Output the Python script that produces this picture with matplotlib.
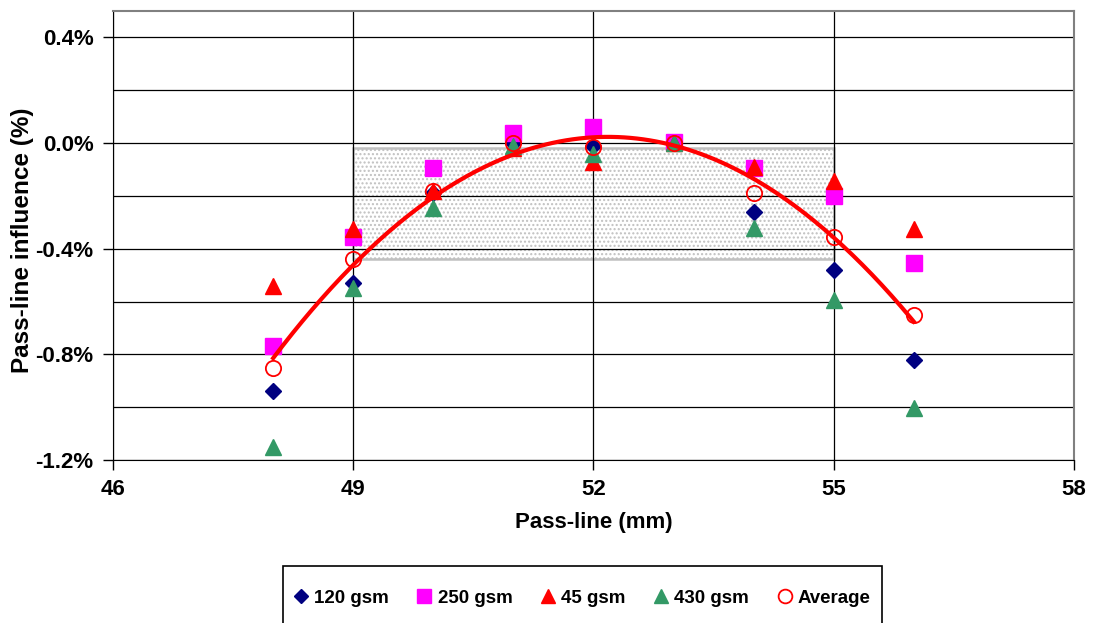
import numpy as np
import matplotlib
matplotlib.use('Agg')
import matplotlib.pyplot as plt
from matplotlib.ticker import MultipleLocator, FuncFormatter
from matplotlib.patches import Rectangle

plt.rcParams['font.family'] = ['Liberation Sans', 'DejaVu Sans']
plt.rcParams['font.weight'] = 'bold'
plt.rcParams['hatch.color'] = '#c0c0c0'
plt.rcParams['hatch.linewidth'] = 1.0

# pass-line positions (mm) and influence (%)
passline = [48, 49, 50, 51, 52, 53, 54, 55, 56]
g120 = [-0.937, -0.53, -0.19, 0.0, -0.01, 0.0, -0.26, -0.48, -0.82]
g250 = [-0.77, -0.357, -0.095, 0.04, 0.06, 0.005, -0.095, -0.20, -0.455]
g45 = [-0.54, -0.325, -0.18, -0.02, -0.07, 0.0, -0.09, -0.145, -0.326]
g430 = [-1.15, -0.55, -0.247, -0.01, -0.04, 0.0, -0.32, -0.595, -1.005]
average = [-0.85, -0.44, -0.18, 0.0, -0.015, 0.0, -0.19, -0.355, -0.65]
xticks = [46, 49, 52, 55, 58]

# tolerance band
band_x = [49, 55]
band_y = [-0.44, -0.02]

fig = plt.figure(figsize=(10.93, 6.23), dpi=100)
ax = fig.add_axes([0.1034, 0.2617, 0.8792, 0.7206])

ax.add_patch(Rectangle((band_x[0], band_y[0]), band_x[1] - band_x[0], band_y[1] - band_y[0],
                       facecolor='none', edgecolor='#c0c0c0', lw=1.8, hatch='....', zorder=1.5))

ax.plot(passline, g120, 'D', color='#000080', ms=8, ls='none', label='120 gsm', zorder=3)
ax.plot(passline, g250, 's', color='#ff00ff', ms=11, ls='none', label='250 gsm', zorder=3)
ax.plot(passline, g45, '^', color='#ff0000', ms=11, ls='none', label='45 gsm', zorder=3)
ax.plot(passline, g430, '^', color='#339966', ms=11, ls='none', label='430 gsm', zorder=3)
ax.plot(passline, average, 'o', mec='#ff0000', mfc='none', mew=1.3, ms=11, ls='none',
        label='Average', zorder=3)

# 2nd order trend of the average
coef = np.polyfit(passline, average, 2)
xs = np.linspace(min(passline), max(passline), 200)
ax.plot(xs, np.polyval(coef, xs), color='#ff0000', lw=3, zorder=4)

ax.set_xlim(46, 58)
ax.set_ylim(-1.2, 0.5)
ax.set_xticks(xticks)
ax.yaxis.set_major_locator(MultipleLocator(0.4))
ax.yaxis.set_minor_locator(MultipleLocator(0.2))
ax.yaxis.set_major_formatter(FuncFormatter(lambda v, p: '%.1f%%' % v))
ax.grid(True, which='major', color='black', lw=0.9, zorder=1)
ax.grid(True, which='minor', axis='y', color='black', lw=0.9, zorder=1)
ax.tick_params(which='major', direction='out', length=7, width=1, labelsize=16, pad=7)
ax.tick_params(which='minor', length=0)
for s in ['left', 'bottom']:
    ax.spines[s].set_color('black')
for s in ['top', 'right']:
    ax.spines[s].set_color('#808080')
    ax.spines[s].set_linewidth(1.5)

ax.set_xlabel('Pass-line (mm)', fontsize=16, fontweight='bold', labelpad=8)
ax.set_ylabel('Pass-line influence (%)', fontsize=17.5, fontweight='bold')
ax.yaxis.set_label_coords(-0.082, 0.49)

# legend box running off the bottom edge
fig.patches.append(Rectangle((283 / 1093, -0.05), 599 / 1093, 0.05 + 57 / 623,
                             transform=fig.transFigure, facecolor='white',
                             edgecolor='black', lw=1.2))
leg = fig.legend(loc='center', bbox_to_anchor=(582 / 1093, 1 - 598 / 623), ncol=5,
                 fontsize=13.5, frameon=False, handlelength=0.8, handletextpad=0.3,
                 columnspacing=1.5, markerscale=0.9)

fig.savefig('out.png', dpi=100)
